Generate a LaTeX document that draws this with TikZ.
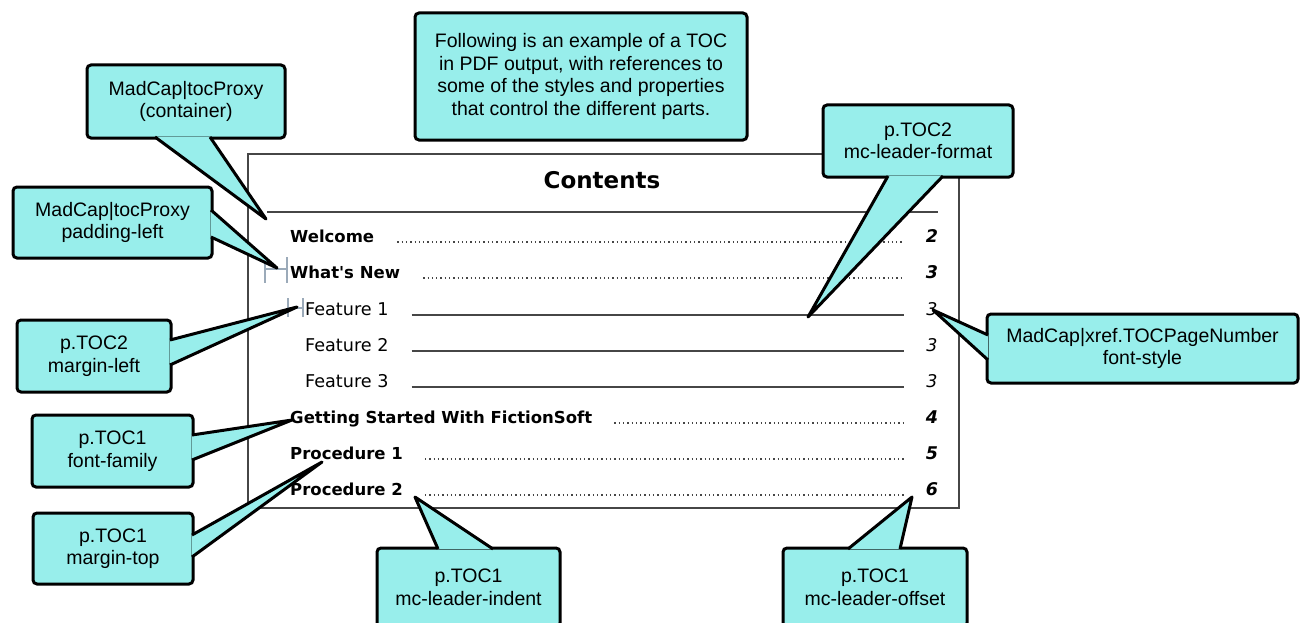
\documentclass[tikz,border=0pt]{standalone}
\usepackage{fontspec}
\setmainfont{Liberation Sans}
\newfontfamily\tocfont{DejaVu Sans}
\usetikzlibrary{calc}

\definecolor{tipfill}{RGB}{152,238,235}
\definecolor{barcol}{RGB}{155,170,185}
\definecolor{rulecol}{RGB}{70,70,70}

% wedge of a callout: base point, tip, base point
\newcommand{\callptr}[3]{%
  \fill[tipfill] #1 -- #2 -- #3 -- cycle;
  \draw[line width=3pt, line join=round] #1 -- #2 -- #3;}

\begin{document}
\begin{tikzpicture}[x=1pt, y=-1pt,
  callout/.style={draw, line width=3pt, fill=tipfill, rounded corners=4pt, align=center, inner sep=0pt,
    font=\fontsize{19.5}{22.5}\selectfont},
  entryA/.style={anchor=base west, inner sep=0pt, font=\tocfont\bfseries\fontsize{16.5}{19}\selectfont},
  entryB/.style={anchor=base west, inner sep=0pt, font=\tocfont\fontsize{17.6}{20}\selectfont},
  pageA/.style={anchor=base, inner sep=0pt, font=\tocfont\bfseries\itshape\fontsize{17.5}{20}\selectfont},
  pageB/.style={anchor=base, inner sep=0pt, font=\tocfont\itshape\fontsize{17.5}{20}\selectfont},
  dotlead/.style={draw=rulecol, line width=1.3pt, dash pattern=on 1.3pt off 3pt},
  solidlead/.style={draw=rulecol, line width=1.6pt},
  indentbar/.style={draw=barcol, line width=2.4pt}
]
\useasboundingbox (0,0) rectangle (1300,623);

% the TOC page
\node[draw=rulecol, line width=1.5pt, minimum width=711pt, minimum height=354pt, inner sep=0pt] (toc) at (603.5,331) {};
\node[anchor=base, font=\tocfont\bfseries\fontsize{23}{26}\selectfont] (title) at (602,188) {Contents};
\draw[rulecol, line width=1.5pt] (267,212) -- (938,212);

\node[entryA] (welcome) at (290,242) {Welcome};
\node[entryA] (whatsnew) at (290,278) {What\textquotesingle s New};
\node[entryB] (feat1) at (305,315) {Feature 1};
\node[entryB] (feat2) at (305,351) {Feature 2};
\node[entryB] (feat3) at (305,387) {Feature 3};
\node[entryA] (started) at (290,423) {Getting Started With FictionSoft};
\node[entryA] (proc1) at (290,459) {Procedure 1};
\node[entryA] (proc2) at (290,495) {Procedure 2};

\coordinate (leadend) at (904,0);
\coordinate (pgcol) at (932,0);

\draw[dotlead] ([xshift=23pt]welcome.base east) -- (welcome.base east -| leadend);
\draw[dotlead] ([xshift=23pt]whatsnew.base east) -- (whatsnew.base east -| leadend);
\draw[solidlead] ([xshift=23pt]feat1.base east) -- (feat1.base east -| leadend);
\draw[solidlead] ([xshift=23pt]feat2.base east) -- (feat2.base east -| leadend);
\draw[solidlead] ([xshift=23pt]feat3.base east) -- (feat3.base east -| leadend);
\draw[dotlead] ([xshift=22pt]started.base east) -- (started.base east -| leadend);
\draw[dotlead] ([xshift=22pt]proc1.base east) -- (proc1.base east -| leadend);
\draw[dotlead] ([xshift=22pt]proc2.base east) -- (proc2.base east -| leadend);

\node[pageA] (pg1) at (welcome.base -| pgcol) {2};
\node[pageA] (pg2) at (whatsnew.base -| pgcol) {3};
\node[pageB] (pg3) at (feat1.base -| pgcol) {3};
\node[pageB] (pg4) at (feat2.base -| pgcol) {3};
\node[pageB] (pg5) at (feat3.base -| pgcol) {3};
\node[pageA] (pg6) at (started.base -| pgcol) {4};
\node[pageA] (pg7) at (proc1.base -| pgcol) {5};
\node[pageA] (pg8) at (proc2.base -| pgcol) {6};

% indent markers
\draw[indentbar] (265,257) -- (265,283) (265,269) -- (287,269) (287,257) -- (287,283);
\draw[indentbar] (288,298) -- (288,317) (288,308) -- (303,308) (303,298) -- (303,317);

% callouts
\node[callout, minimum width=332pt, minimum height=127pt] (note) at (581,76.5)
  {Following is an example of a TOC\\in PDF output, with references to\\some of the styles and properties\\that control the different parts.};

\node[callout, minimum width=198pt, minimum height=73pt] (proxy) at (186,101.5) {MadCap|tocProxy\\(container)};
\coordinate (t1) at (266,219);
\callptr{($(proxy.south)+(-31,-2.5)$)}{(t1)}{($(proxy.south)+(24,-2.5)$)}

\node[callout, minimum width=199pt, minimum height=71pt] (padding) at (112.5,222.5) {MadCap|tocProxy\\padding-left};
\coordinate (t2) at (277,268);
\callptr{($(padding.east)+(-2.5,-12.5)$)}{(t2)}{($(padding.east)+(-2.5,14.5)$)}

\node[callout, minimum width=154pt, minimum height=72pt] (margleft) at (94,356) {p.TOC2\\margin-left};
\coordinate (t3) at (297,307);
\callptr{($(margleft.east)+(-2.5,-16)$)}{(t3)}{($(margleft.east)+(-2.5,9)$)}

\node[callout, minimum width=161pt, minimum height=72pt] (fontfam) at (112.5,451) {p.TOC1\\font-family};
\coordinate (t4) at (292,420);
\callptr{($(fontfam.east)+(-2.5,-16)$)}{(t4)}{($(fontfam.east)+(-2.5,9)$)}

\node[callout, minimum width=160pt, minimum height=71pt] (margtop) at (113,548.5) {p.TOC1\\margin-top};
\coordinate (t5) at (322,462);
\callptr{($(margtop.east)+(-2.5,-13.5)$)}{(t5)}{($(margtop.east)+(-2.5,8.5)$)}

\node[callout, minimum width=183pt, minimum height=79pt] (indent) at (468.5,587.5) {p.TOC1\\mc-leader-indent};
\coordinate (t6) at (415,497);
\callptr{($(indent.north)+(-30.5,2.5)$)}{(t6)}{($(indent.north)+(24.5,2.5)$)}

\node[callout, minimum width=184pt, minimum height=79pt] (offset) at (875,587.5) {p.TOC1\\mc-leader-offset};
\coordinate (t7) at (912,497);
\callptr{($(offset.north)+(-27,2.5)$)}{(t7)}{($(offset.north)+(25,2.5)$)}

\node[callout, minimum width=311pt, minimum height=69pt] (pagenum) at (1142.5,348.5) {MadCap|xref.TOCPageNumber\\font-style};
\coordinate (t8) at (933,310);
\callptr{($(pagenum.west)+(2.5,-13.5)$)}{(t8)}{($(pagenum.west)+(2.5,11.5)$)}

\node[callout, minimum width=190pt, minimum height=72pt] (format) at (918,141) {p.TOC2\\mc-leader-format};
\coordinate (t9) at (808,317);
\callptr{($(format.south)+(-30,-2.5)$)}{(t9)}{($(format.south)+(25,-2.5)$)}

\end{tikzpicture}
\end{document}
